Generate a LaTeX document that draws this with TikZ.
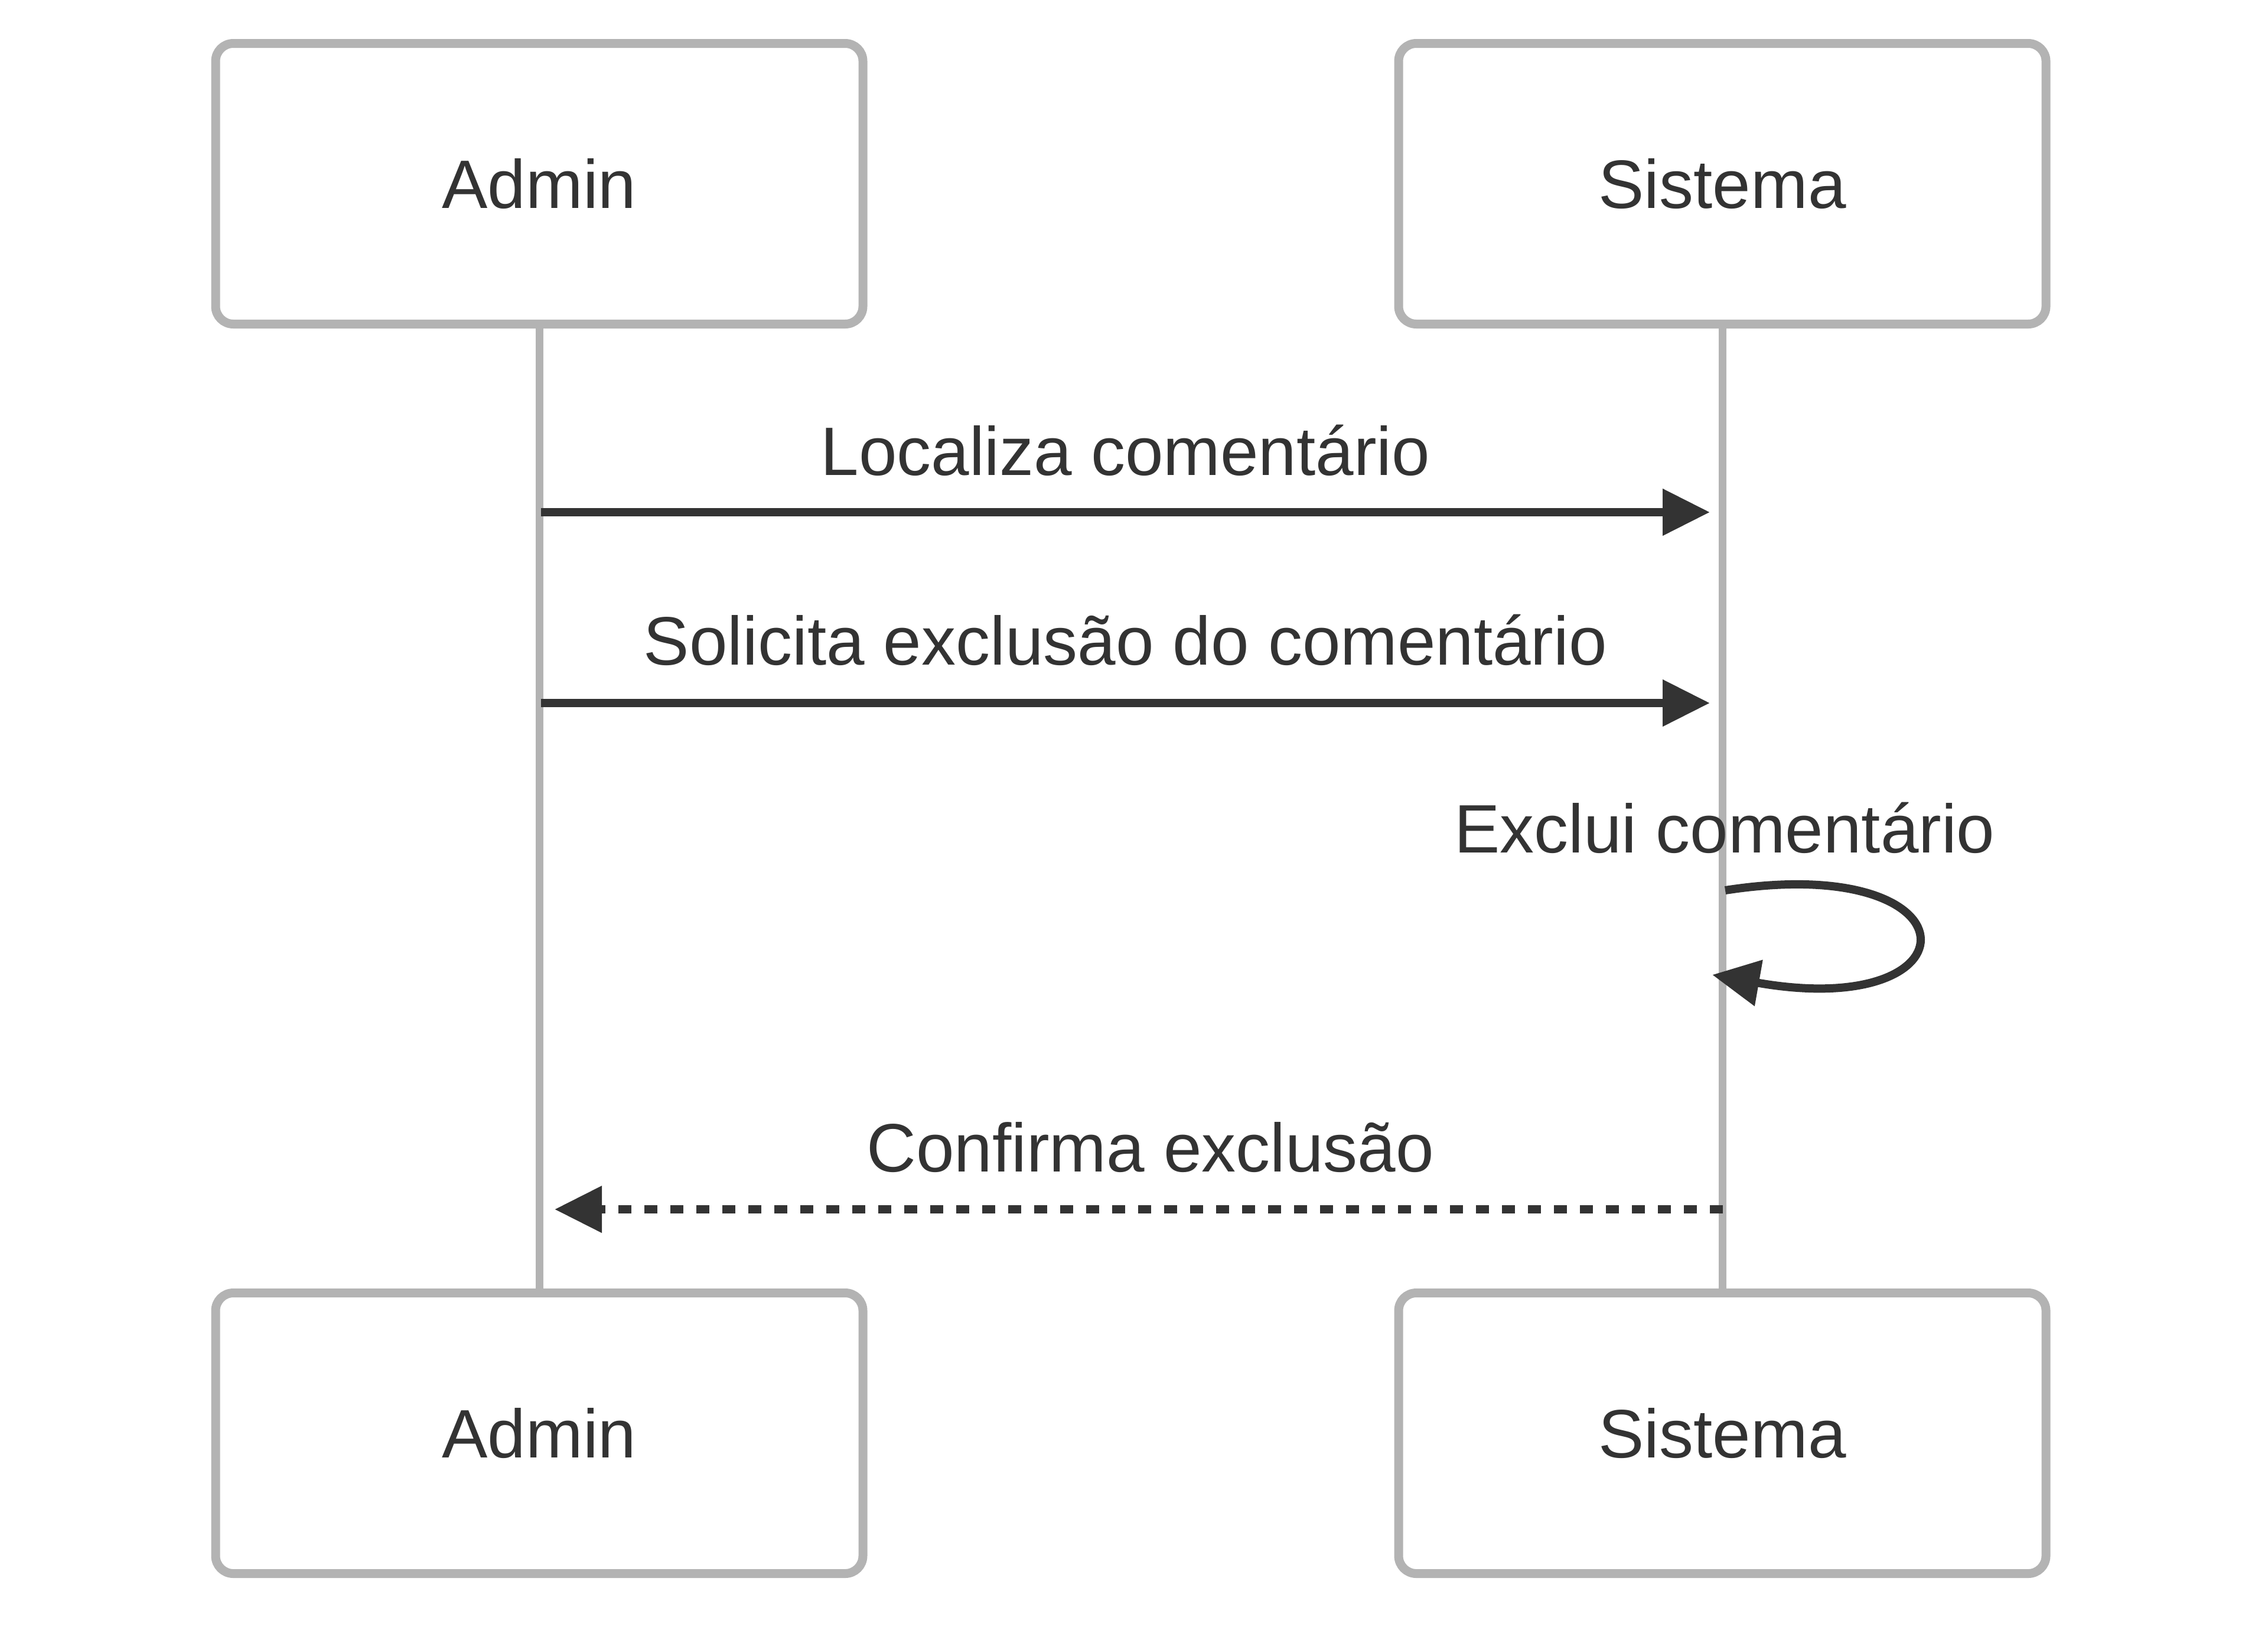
\documentclass[tikz,border=0pt]{standalone}
\usepackage{fontspec}
\setmainfont{Liberation Sans}
\usetikzlibrary{arrows.meta, positioning}
\definecolor{lifegray}{HTML}{B3B3B3}
\definecolor{inkgray}{HTML}{333333}
\tikzset{
    actor/.style={rectangle, draw=lifegray, fill=white, line width=0.15cm, rounded corners=0.3cm, minimum width=10.96cm, minimum height=4.75cm, text=inkgray, font=\fontsize{33}{40}\selectfont},
    lifeline/.style={draw=lifegray, line width=0.13cm},
    msg/.style={draw=inkgray, line width=0.14cm},
    reply/.style={msg, dash pattern=on 0.22cm off 0.22cm},
    msglabel/.style={anchor=base, text=inkgray, font=\fontsize{33}{40}\selectfont, inner sep=0pt}
}

\begin{document}
\begin{tikzpicture}[>={Triangle[length=0.8cm, width=0.76cm]}]
\useasboundingbox (0,0) rectangle (38.40,-27.53);
\node[actor] (admin) at (9.13,-3.11) {Admin};
\node[actor] (sistema) at (29.16,-3.11) {Sistema};
\node[actor, below=16.25cm of admin] (adminB) {Admin};
\node[actor, below=16.25cm of sistema] (sistemaB) {Sistema};
\draw[lifeline] (admin) -- (adminB);
\draw[lifeline] (sistema) -- (sistemaB);
% message end points
\coordinate (m1s) at (9.16,-8.67);
\coordinate (m1e) at (28.95,-8.67);
\coordinate (m2s) at (9.16,-11.90);
\coordinate (m2e) at (28.95,-11.90);
\coordinate (m3s) at (29.21,-15.07);
\coordinate (m3e) at (28.99,-16.50);
\coordinate (m4s) at (29.17,-20.47);
\coordinate (m4e) at (9.39,-20.47);
\draw[msg, ->] (m1s) -- node[msglabel, yshift=0.63cm] (l1) {Localiza comentário} (m1e);
\draw[msg, ->] (m2s) -- node[msglabel, yshift=0.65cm] (l2) {Solicita exclusão do comentário} (m2e);
\node[msglabel] (l3) at (29.20,-14.43) {Exclui comentário};
\draw[msg, ->] (m3s) .. controls +(4.32,0.67) and +(4.54,-0.80) .. (m3e);
\draw[reply, ->] (m4s) -- node[msglabel, pos=0.49, yshift=0.64cm] (l4) {Confirma exclusão} (m4e);
\end{tikzpicture}
\end{document}
